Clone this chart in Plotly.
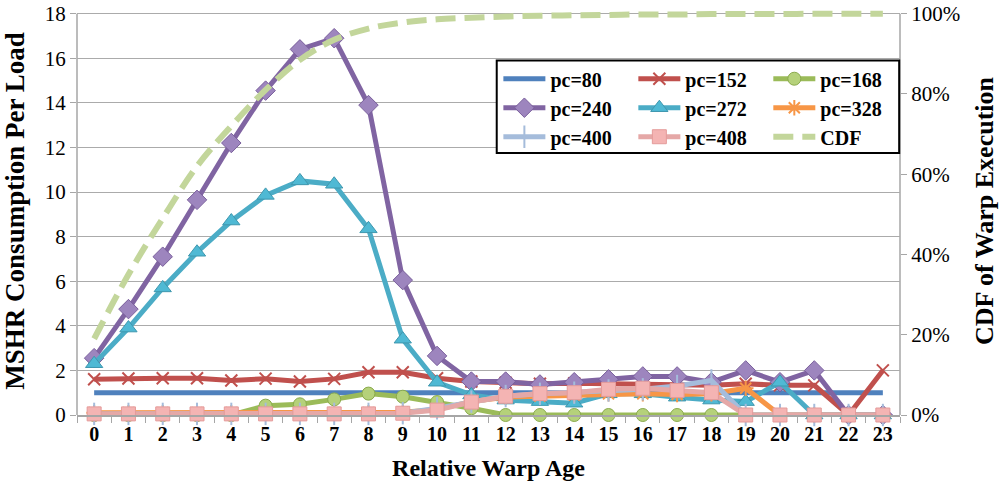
import plotly.graph_objects as go

ages = [str(i) for i in range(24)]

pc80 = [1.0] * 24
pc152 = [1.6, 1.64, 1.65, 1.65, 1.55, 1.63, 1.5, 1.62, 1.92, 1.92, 1.65, 1.5,
         1.45, 1.4, 1.42, 1.4, 1.35, 1.35, 1.33, 1.4, 1.33, 1.33, 0.0, 2.0]
pc168 = [0.0, 0.0, 0.0, 0.0, 0.0, 0.42, 0.48, 0.7, 0.96, 0.82, 0.58, 0.3,
         0.0, 0.0, 0.0, 0.0, 0.0, 0.0, 0.0, 0.0, 0.0, 0.0, 0.0, 0.0]
pc240 = [2.55, 4.75, 7.1, 9.65, 12.2, 14.55, 16.4, 16.9, 13.9, 6.05, 2.65, 1.5,
         1.5, 1.37, 1.47, 1.6, 1.73, 1.73, 1.47, 2.0, 1.47, 2.0, 0.0, 0.0]
pc272 = [2.3, 3.9, 5.7, 7.3, 8.7, 9.85, 10.5, 10.35, 8.35, 3.4, 1.47, 0.9,
         0.67, 0.6, 0.53, 0.95, 0.95, 0.8, 0.67, 0.6, 1.47, 0.0, 0.0, 0.0]
pc328 = [0.1, 0.1, 0.1, 0.1, 0.1, 0.1, 0.1, 0.1, 0.1, 0.12, 0.25, 0.6,
         0.8, 0.85, 0.9, 0.95, 0.95, 0.92, 0.95, 1.2, 0.0, 0.0, 0.0, 0.0]
pc400 = [0.05, 0.05, 0.05, 0.05, 0.05, 0.05, 0.05, 0.05, 0.05, 0.08, 0.3, 0.6,
         0.85, 0.95, 1.0, 1.1, 1.15, 1.3, 1.55, 0.0, 0.0, 0.0, 0.0, 0.0]
pc408 = [0.05, 0.05, 0.05, 0.05, 0.05, 0.05, 0.05, 0.05, 0.05, 0.08, 0.22, 0.58,
         0.84, 0.96, 1.0, 1.15, 1.2, 1.1, 1.0, 0.0, 0.0, 0.0, 0.0, 0.0]
cdf = [0.19, 0.35, 0.49, 0.62, 0.72, 0.81, 0.885, 0.935, 0.963, 0.978, 0.986, 0.99,
       0.993, 0.995, 0.996, 0.997, 0.998, 0.998, 0.999, 0.999, 0.999, 1.0, 1.0, 1.0]

y_ticks = list(range(0, 19, 2))
cdf_ticks = [0, 0.2, 0.4, 0.6, 0.8, 1.0]

FONT = "Times New Roman"
Y_TOP = 18.3  # a little headroom so the top gridline is kept
fig = go.Figure()

def add(name, y, color, symbol=None, msize=12, mcolor=None, legend="legend", mline=None):
    mode = "lines+markers" if symbol else "lines"
    marker = dict(symbol=symbol or "circle", size=msize, color=mcolor or color,
                  line=dict(width=mline[1] if mline else 1, color=mline[0] if mline else color))
    fig.add_trace(go.Scatter(x=ages, y=y, name=name, mode=mode, cliponaxis=False,
                             line=dict(color=color, width=5), marker=marker,
                             legend=legend))

add("pc=80", pc80, "#4F81BD", legend="legend")
add("pc=152", pc152, "#C0504D", symbol="x-thin-open", msize=12, legend="legend2",
    mline=("#E8A09E", 2))
add("pc=168", pc168, "#9BBB59", symbol="circle", msize=13, mcolor="#B5D17A", legend="legend3",
    mline=("#8AAA4C", 1))
add("pc=240", pc240, "#8064A2", symbol="diamond", msize=15, mcolor="#9D85BE", legend="legend",
    mline=("#7A5F9C", 1))
add("pc=272", pc272, "#4BACC6", symbol="triangle-up", msize=15, mcolor="#4FB9D4", legend="legend2",
    mline=("#3E97AE", 1))
add("pc=328", pc328, "#F79646", symbol="asterisk-open", msize=13, legend="legend3",
    mline=("#F79646", 2))
add("pc=400", pc400, "#A5BCDB", symbol="line-ns-open", msize=16, legend="legend",
    mline=("#8FAAD0", 2))
add("pc=408", pc408, "#E5A8A7", symbol="square", msize=14, mcolor="#F4B4B3", legend="legend2",
    mline=("#E49B9A", 1))

fig.add_trace(go.Scatter(x=ages, y=cdf, name="CDF", mode="lines", yaxis="y2",
                         line=dict(color="#C3D69B", width=6, dash="20px,9px", shape="spline"),
                         legend="legend3"))

leg_common = dict(font=dict(family=FONT, size=20, color="black", weight="bold"),
                  bgcolor="rgba(0,0,0,0)", borderwidth=0, tracegroupgap=0,
                  orientation="v", yanchor="top", xanchor="left", itemwidth=42)

fig.update_layout(
    width=999, height=490,
    margin=dict(l=77, r=99, t=7, b=75, autoexpand=False),
    paper_bgcolor="white", plot_bgcolor="white",
    font=dict(family=FONT, color="black"),
    xaxis=dict(type="category", categoryorder="array", categoryarray=ages, automargin=False,
               range=[-0.5, 23.5], autorange=False, zeroline=False,
               tickson="boundaries", ticks="outside", ticklen=6, tickcolor="#A6A6A6",
               showline=True, linecolor="#A6A6A6", linewidth=1.5, showgrid=False,
               tickfont=dict(family=FONT, size=20, weight="bold", color="black"),
               title=dict(text="Relative Warp Age",
                          font=dict(family=FONT, size=24, weight="bold", color="black"))),
    yaxis=dict(range=[0, Y_TOP], autorange=False, tickmode="array",
               tickvals=y_ticks, showgrid=True, ticklabeloverflow="allow",
               gridcolor="#ABABAB", gridwidth=1.3, automargin=False,
               zeroline=False, showline=False,
               ticks="outside", ticklen=6, tickcolor="#A6A6A6",
               tickfont=dict(family=FONT, size=21, color="black"),
               title=dict(text="MSHR Consumption Per Load",
                          font=dict(family=FONT, size=27, weight="bold", color="black"))),
    yaxis2=dict(range=[0, Y_TOP / 18], autorange=False, tickmode="array",
                tickvals=cdf_ticks, tickformat=".0%", ticklabeloverflow="allow",
                overlaying="y", side="right", automargin=False,
                showgrid=False, zeroline=False, showline=False,
                ticks="outside", ticklen=6, tickcolor="#A6A6A6",
                tickfont=dict(family=FONT, size=21, color="black"),
                title=dict(text="CDF of Warp Execution",
                           font=dict(family=FONT, size=26, weight="bold", color="black"))),
    legend=dict(x=0.512, y=0.872, **leg_common),
    legend2=dict(x=0.676, y=0.872, **leg_common),
    legend3=dict(x=0.840, y=0.872, **leg_common),
    shapes=[
        dict(type="line", xref="paper", yref="y", x0=0, x1=0, y0=0, y1=18,
             line=dict(color="#A6A6A6", width=1.5), layer="below"),
        dict(type="line", xref="paper", yref="y", x0=1, x1=1, y0=0, y1=18,
             line=dict(color="#A6A6A6", width=1.5), layer="below"),
        dict(type="rect", xref="paper", yref="y", x0=0.510, x1=0.999,
             y0=11.75, y1=15.9, fillcolor="white",
             line=dict(color="black", width=2), layer="above"),
    ],
    showlegend=True,
)

fig.write_html("out.html")
